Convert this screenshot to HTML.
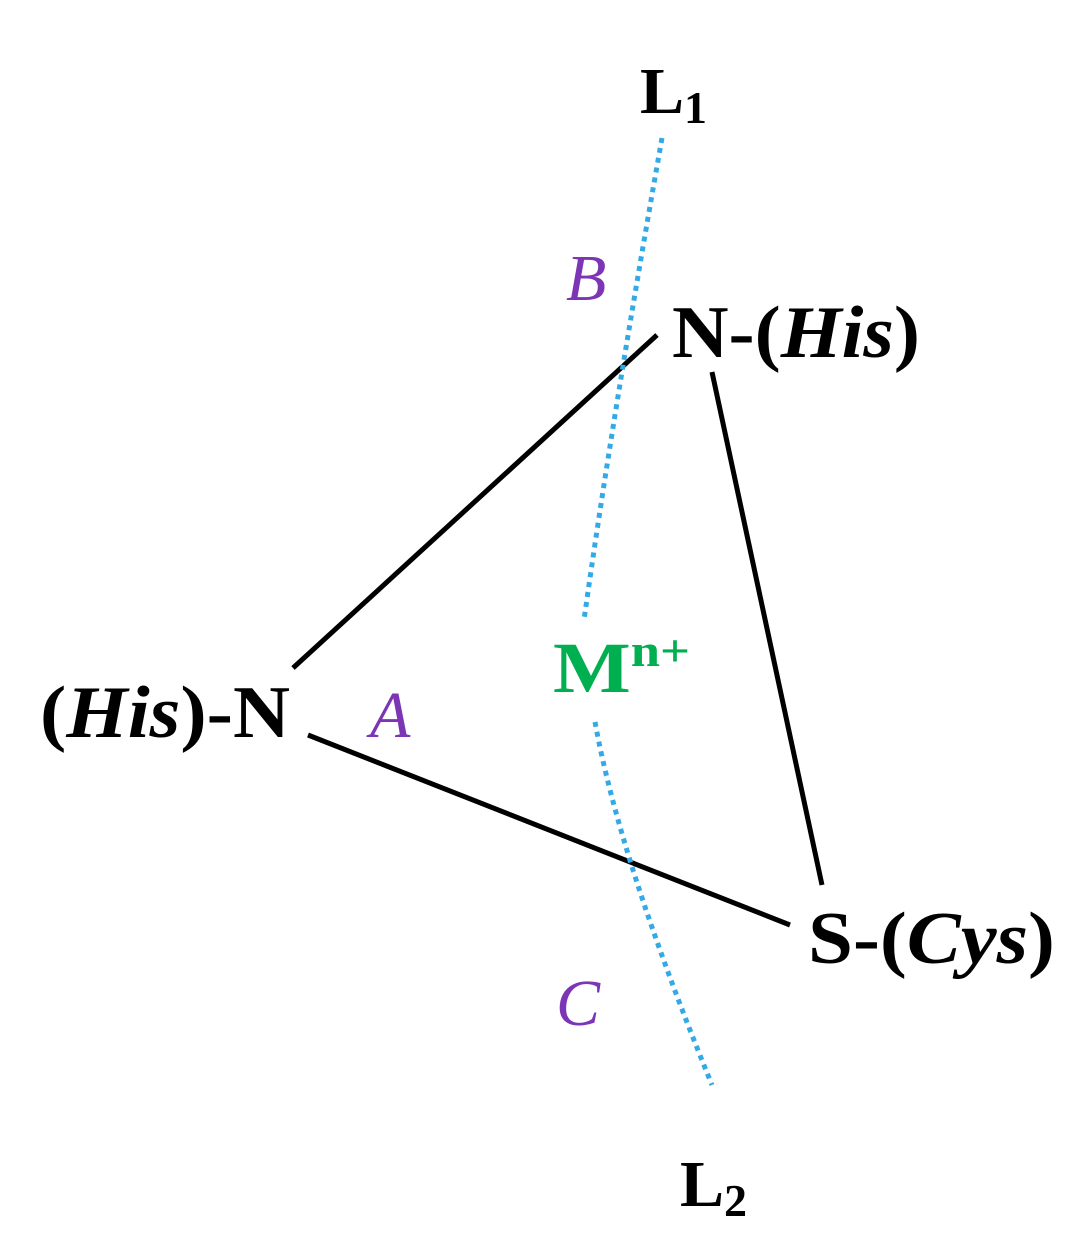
<!DOCTYPE html>
<html><head><style>
html,body{margin:0;padding:0;background:#fff;}
svg{display:block;}
text{font-family:"Liberation Serif",serif;font-weight:bold;}
</style></head><body>
<svg width="1088" height="1248" viewBox="0 0 1088 1248" xmlns="http://www.w3.org/2000/svg">
<g stroke="#000" stroke-width="5" stroke-linecap="butt">
<line x1="657" y1="335" x2="293" y2="668"/>
<line x1="308" y1="735" x2="790" y2="925"/>
<line x1="712" y1="372" x2="822" y2="885"/>
</g>
<g stroke="#33a9e6" stroke-width="5" fill="none" stroke-dasharray="5,5">
<path d="M662,138 Q612,420 584,620"/>
<path d="M595,722 Q620,860 712,1085"/>
</g>
<text x="640" y="113" font-size="66">L<tspan font-size="46" dy="10">1</tspan></text>
<text x="680" y="1206" font-size="66">L<tspan font-size="46" dy="10">2</tspan></text>
<text x="672" y="357" font-size="74" textLength="248" lengthAdjust="spacingAndGlyphs">N-(<tspan font-style="italic">His</tspan>)</text>
<text x="40" y="737" font-size="74" textLength="250" lengthAdjust="spacingAndGlyphs">(<tspan font-style="italic">His</tspan>)-N</text>
<text x="808" y="963" font-size="74" textLength="247" lengthAdjust="spacingAndGlyphs">S-(<tspan font-style="italic">Cys</tspan>)</text>
<text x="553" y="692" font-size="72" fill="#00b050" textLength="137" lengthAdjust="spacingAndGlyphs">M<tspan font-size="46" dy="-26">n+</tspan></text>
<g fill="#7b35b5" font-style="italic" font-size="66">
<text x="370" y="737" style="font-weight:normal">A</text>
<text x="566" y="300" style="font-weight:normal">B</text>
<text x="556" y="1025" style="font-weight:normal">C</text>
</g>
</svg>
</body></html>
